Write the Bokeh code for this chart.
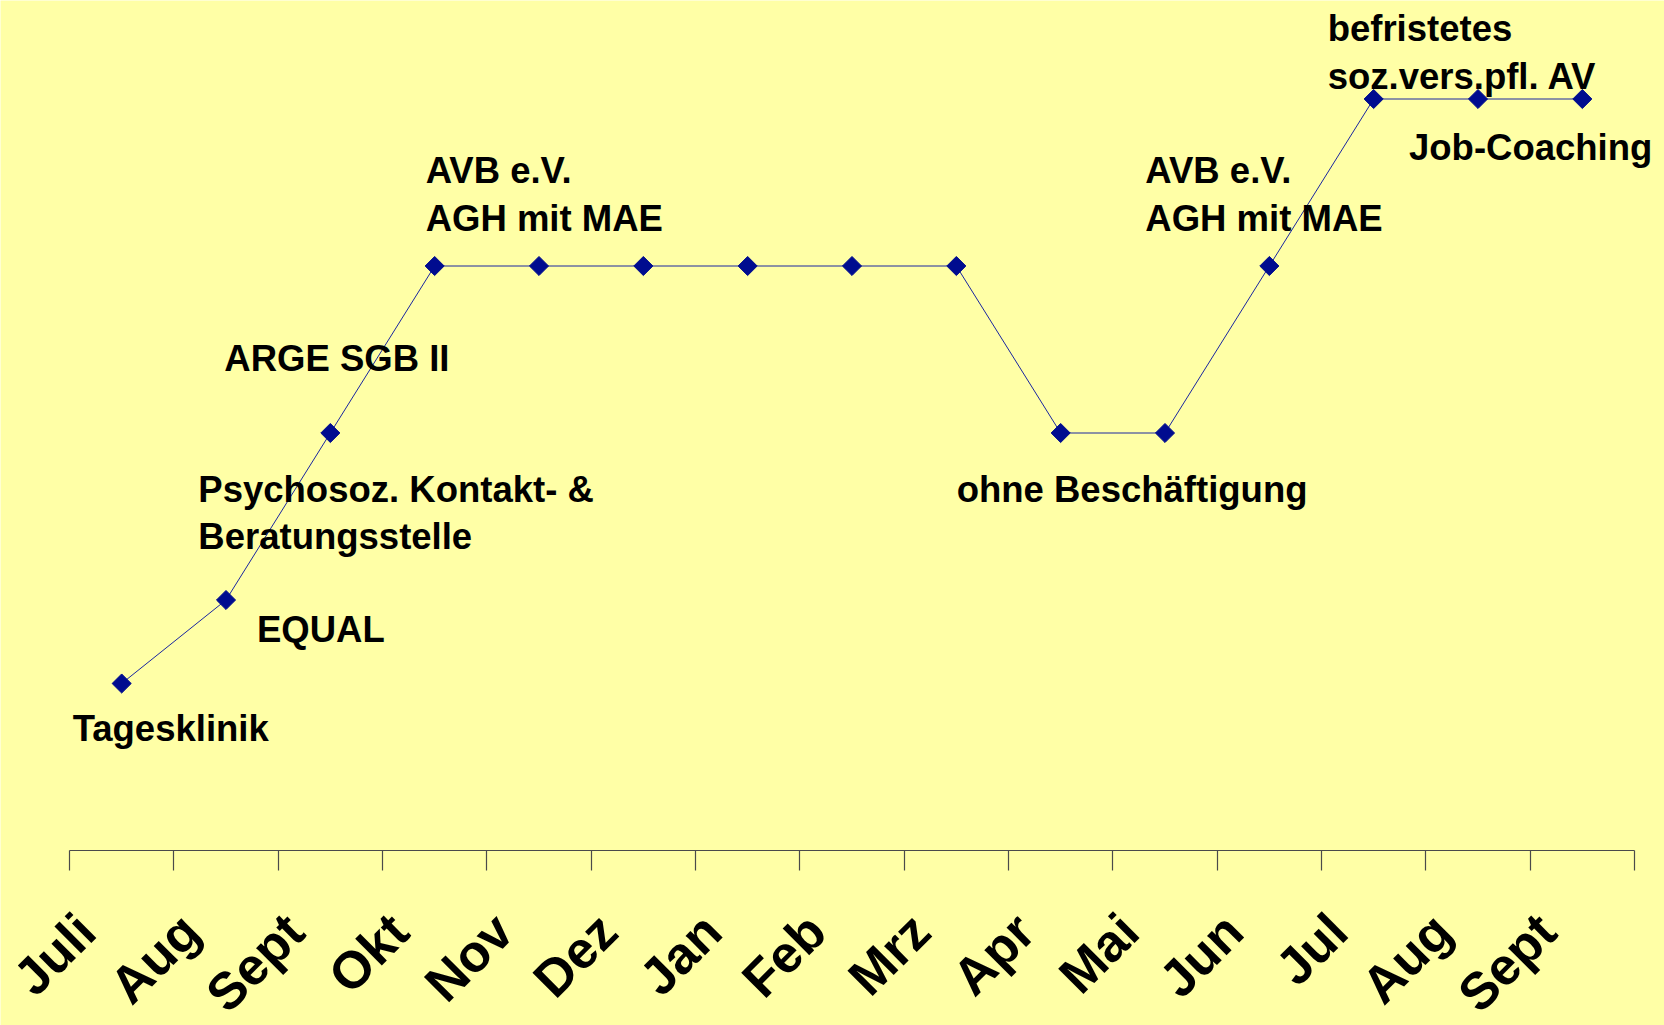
import math
from bokeh.plotting import figure
from bokeh.models import Range1d, FixedTicker, Label, LinearAxis
from bokeh.embed import file_html
from bokeh.resources import INLINE

# ---- data ----
months = ["Juli", "Aug", "Sept", "Okt", "Nov", "Dez", "Jan", "Feb", "Mrz",
          "Apr", "Mai", "Jun", "Jul", "Aug", "Sept"]
level = [1.0, 1.5, 2.5, 3.5, 3.5, 3.5, 3.5, 3.5, 3.5, 2.5, 2.5, 3.5, 4.5, 4.5, 4.5]

# annotation texts, attached to the month index they describe
ann_index = [0, 1, 2, 2, 2, 3, 3, 9, 11, 11, 12, 12, 13]
ann_text = ["Tagesklinik", "EQUAL", "Psychosoz. Kontakt- &", "Beratungsstelle",
            "ARGE SGB II", "AVB e.V.", "AGH mit MAE", "ohne Beschäftigung",
            "AVB e.V.", "AGH mit MAE", "befristetes", "soz.vers.pfl. AV",
            "Job-Coaching"]

# ---- layout (screen-pixel offsets of each annotation's baseline from its point) ----
ann_dx = [-49, 31, -132, -132, -106, -9, -9, -104, -124, -124, -46, -46, -69]
ann_dy = [-58, -42, -69, -116, 62, 83, 35, -69, 83, 35, 58, 10, -61]
dy_fix = 13

BG = "#FFFFA6"
NAVY = "#000C8F"
FONT = "Liberation Sans"

n = len(months)
xs = [i + 0.5 for i in range(n)]
label_shift = 0.34   # tick labels sit a little left of the category centre

W, H = 1664, 1025
AXIS_X0 = 69          # screen column where the axis starts
AXIS_Y = 850          # screen row of the baseline axis
PX_PER_UNIT = 167
px_per_cat = 1565 / n

p = figure(width=W, height=H, output_backend="svg", toolbar_location=None,
           x_range=Range1d(-AXIS_X0 / px_per_cat, (W - AXIS_X0) / px_per_cat),
           y_range=Range1d(-(H - AXIS_Y) / PX_PER_UNIT, AXIS_Y / PX_PER_UNIT),
           min_border_left=0, min_border_right=0, min_border_top=0,
           min_border_bottom=0, x_axis_location=None, y_axis_location=None)
p.background_fill_color = BG
p.border_fill_color = BG
p.outline_line_color = None
p.xgrid.visible = False
p.ygrid.visible = False

p.line(xs, level, line_color="#1A26A0", line_width=1)
p.scatter(xs, level, marker="square", angle=math.pi / 4, size=13.5,
          fill_color=NAVY, line_color=NAVY)

ax = LinearAxis(bounds=(0, n), fixed_location=0)
label_pos = [x - label_shift for x in xs]
ax.ticker = FixedTicker(ticks=label_pos, minor_ticks=list(range(n + 1)))
ax.major_label_overrides = {x: m for x, m in zip(label_pos, months)}
ax.axis_line_color = "#4A4A4A"
ax.axis_line_width = 1.2
ax.major_tick_line_color = None
ax.major_tick_out = 0
ax.major_tick_in = 0
ax.minor_tick_line_color = "#4A4A4A"
ax.minor_tick_line_width = 1.2
ax.minor_tick_out = 20
ax.minor_tick_in = 0
ax.major_label_orientation = math.pi / 4
ax.major_label_standoff = 52
ax.major_label_text_font = FONT
ax.major_label_text_font_style = "bold"
ax.major_label_text_font_size = "52px"
ax.major_label_text_color = "black"
p.add_layout(ax, "below")

for i, t, dx, dy in zip(ann_index, ann_text, ann_dx, ann_dy):
    p.add_layout(Label(x=xs[i], y=level[i], text=t, x_offset=dx, y_offset=dy + dy_fix,
                       text_font=FONT, text_font_style="bold",
                       text_font_size="36.5px", text_color="black",
                       text_align="left", text_baseline="alphabetic"))

open("out.html", "w").write(file_html(p, INLINE))
